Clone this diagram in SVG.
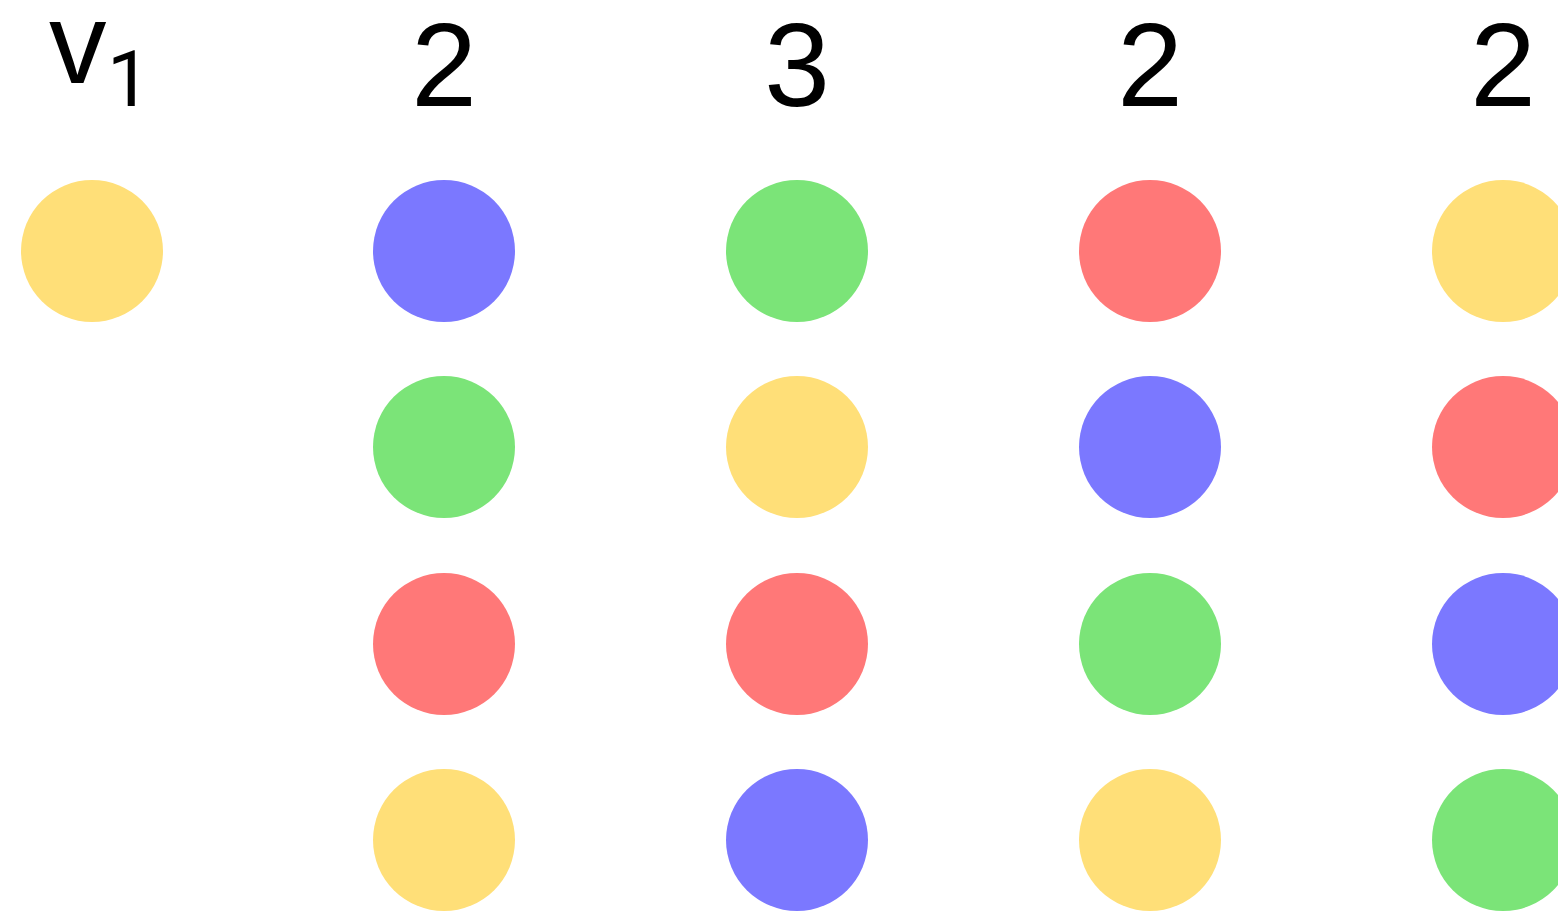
<svg xmlns="http://www.w3.org/2000/svg" width="1558" height="911" viewBox="0 0 1558 911">
<style>
text{font-family:"Liberation Sans",Arial,sans-serif;fill:#000}
.n{font-size:118px;text-anchor:middle}
.y{fill:#FFDF78}.b{fill:#7B78FF}.g{fill:#7BE478}.r{fill:#FF7878}
</style>
<rect width="1558" height="911" fill="#fff"/>
<g id="labels">
<text x="49" y="83" style="font-size:115px">v</text>
<text x="107" y="106" style="font-size:78px;font-family:Roboto,'Liberation Sans',sans-serif">1</text>
<text class="n" x="444" y="106">2</text>
<text class="n" x="797" y="106">3</text>
<text class="n" x="1150" y="106">2</text>
<text class="n" x="1503" y="106">2</text>
</g>
<g id="col1"><circle class="y" cx="92" cy="251" r="71"/></g>
<g id="col2">
<circle class="b" cx="444" cy="251" r="71"/>
<circle class="g" cx="444" cy="447" r="71"/>
<circle class="r" cx="444" cy="644" r="71"/>
<circle class="y" cx="444" cy="840" r="71"/>
</g>
<g id="col3">
<circle class="g" cx="797" cy="251" r="71"/>
<circle class="y" cx="797" cy="447" r="71"/>
<circle class="r" cx="797" cy="644" r="71"/>
<circle class="b" cx="797" cy="840" r="71"/>
</g>
<g id="col4">
<circle class="r" cx="1150" cy="251" r="71"/>
<circle class="b" cx="1150" cy="447" r="71"/>
<circle class="g" cx="1150" cy="644" r="71"/>
<circle class="y" cx="1150" cy="840" r="71"/>
</g>
<g id="col5">
<circle class="y" cx="1503" cy="251" r="71"/>
<circle class="r" cx="1503" cy="447" r="71"/>
<circle class="b" cx="1503" cy="644" r="71"/>
<circle class="g" cx="1503" cy="840" r="71"/>
</g>
</svg>
